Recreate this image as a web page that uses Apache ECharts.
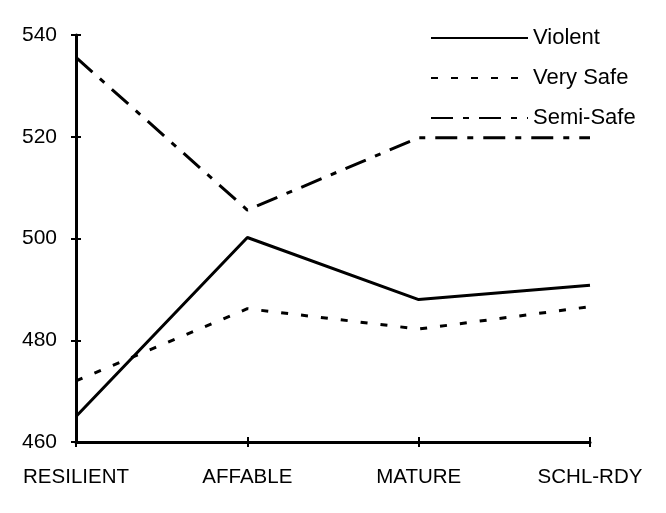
<!DOCTYPE html>
<html><head><meta charset="utf-8">
<script src="https://cdn.jsdelivr.net/npm/echarts@6/dist/echarts.min.js"></script>
<style>html,body{margin:0;padding:0;background:#fff}#c{width:666px;height:513px}</style>
</head><body><div id="c"></div>
<script>
const categories = ['RESILIENT', 'AFFABLE', 'MATURE', 'SCHL-RDY'];
const violent = [465, 500.2, 488, 490.8];
const verySafe = [472, 486.2, 482.2, 486.6];
const semiSafe = [535.6, 505.6, 519.8, 519.8];
const yTicks = [460, 480, 500, 520, 540];

const font = 'Liberation Sans, Arial, sans-serif';
const chart = echarts.init(document.getElementById('c'));
const tickStyle = {color: '#000', width: 2};
chart.setOption({
  animation: false,
  backgroundColor: '#fff',
  grid: {left: 76, right: 76, top: 35, bottom: 71},
  legend: {
    orient: 'vertical', left: 430, top: 27, padding: 0,
    itemWidth: 97, itemHeight: 14, itemGap: 18,
    itemStyle: {opacity: 0},
    textStyle: {fontFamily: font, fontSize: 22, color: '#000', lineHeight: 22, padding: [0, 0, 0, 0]},
    data: ['Violent', 'Very Safe', 'Semi-Safe']
  },
  xAxis: [{
    type: 'category', data: categories, boundaryGap: false,
    axisLine: {lineStyle: {color: '#000', width: 3}},
    axisTick: {show: true, length: 5, lineStyle: tickStyle},
    axisLabel: {margin: 25, fontFamily: font, fontSize: 20.5, color: '#000'},
    splitLine: {show: false}
  }, {
    type: 'category', data: categories, boundaryGap: false, position: 'bottom',
    axisLine: {show: false},
    axisTick: {show: true, inside: true, length: 5, lineStyle: tickStyle},
    axisLabel: {show: false}, splitLine: {show: false}
  }],
  yAxis: [{
    type: 'value', min: yTicks[0], max: yTicks[yTicks.length - 1], interval: 20,
    axisLine: {show: true, lineStyle: {color: '#000', width: 3}},
    axisTick: {show: true, length: 5, lineStyle: tickStyle},
    axisLabel: {margin: 19, fontFamily: font, fontSize: 21, color: '#000'},
    splitLine: {show: false}
  }, {
    type: 'value', min: yTicks[0], max: yTicks[yTicks.length - 1], interval: 20, position: 'left',
    axisLine: {show: false},
    axisTick: {show: true, inside: true, length: 5, lineStyle: tickStyle},
    axisLabel: {show: false}, splitLine: {show: false}
  }],
  series: [
    {name: 'Violent', type: 'line', data: violent, symbol: 'none',
     lineStyle: {color: '#000', width: 3, type: 'solid'}, itemStyle: {color: '#000'}},
    {name: 'Very Safe', type: 'line', data: verySafe, symbol: 'none',
     lineStyle: {color: '#000', width: 3, type: [7, 13]}, itemStyle: {color: '#000'}},
    {name: 'Semi-Safe', type: 'line', data: semiSafe, symbol: 'none',
     lineStyle: {color: '#000', width: 3, type: [22, 10, 6, 10]}, itemStyle: {color: '#000'}}
  ]
});
</script></body></html>
